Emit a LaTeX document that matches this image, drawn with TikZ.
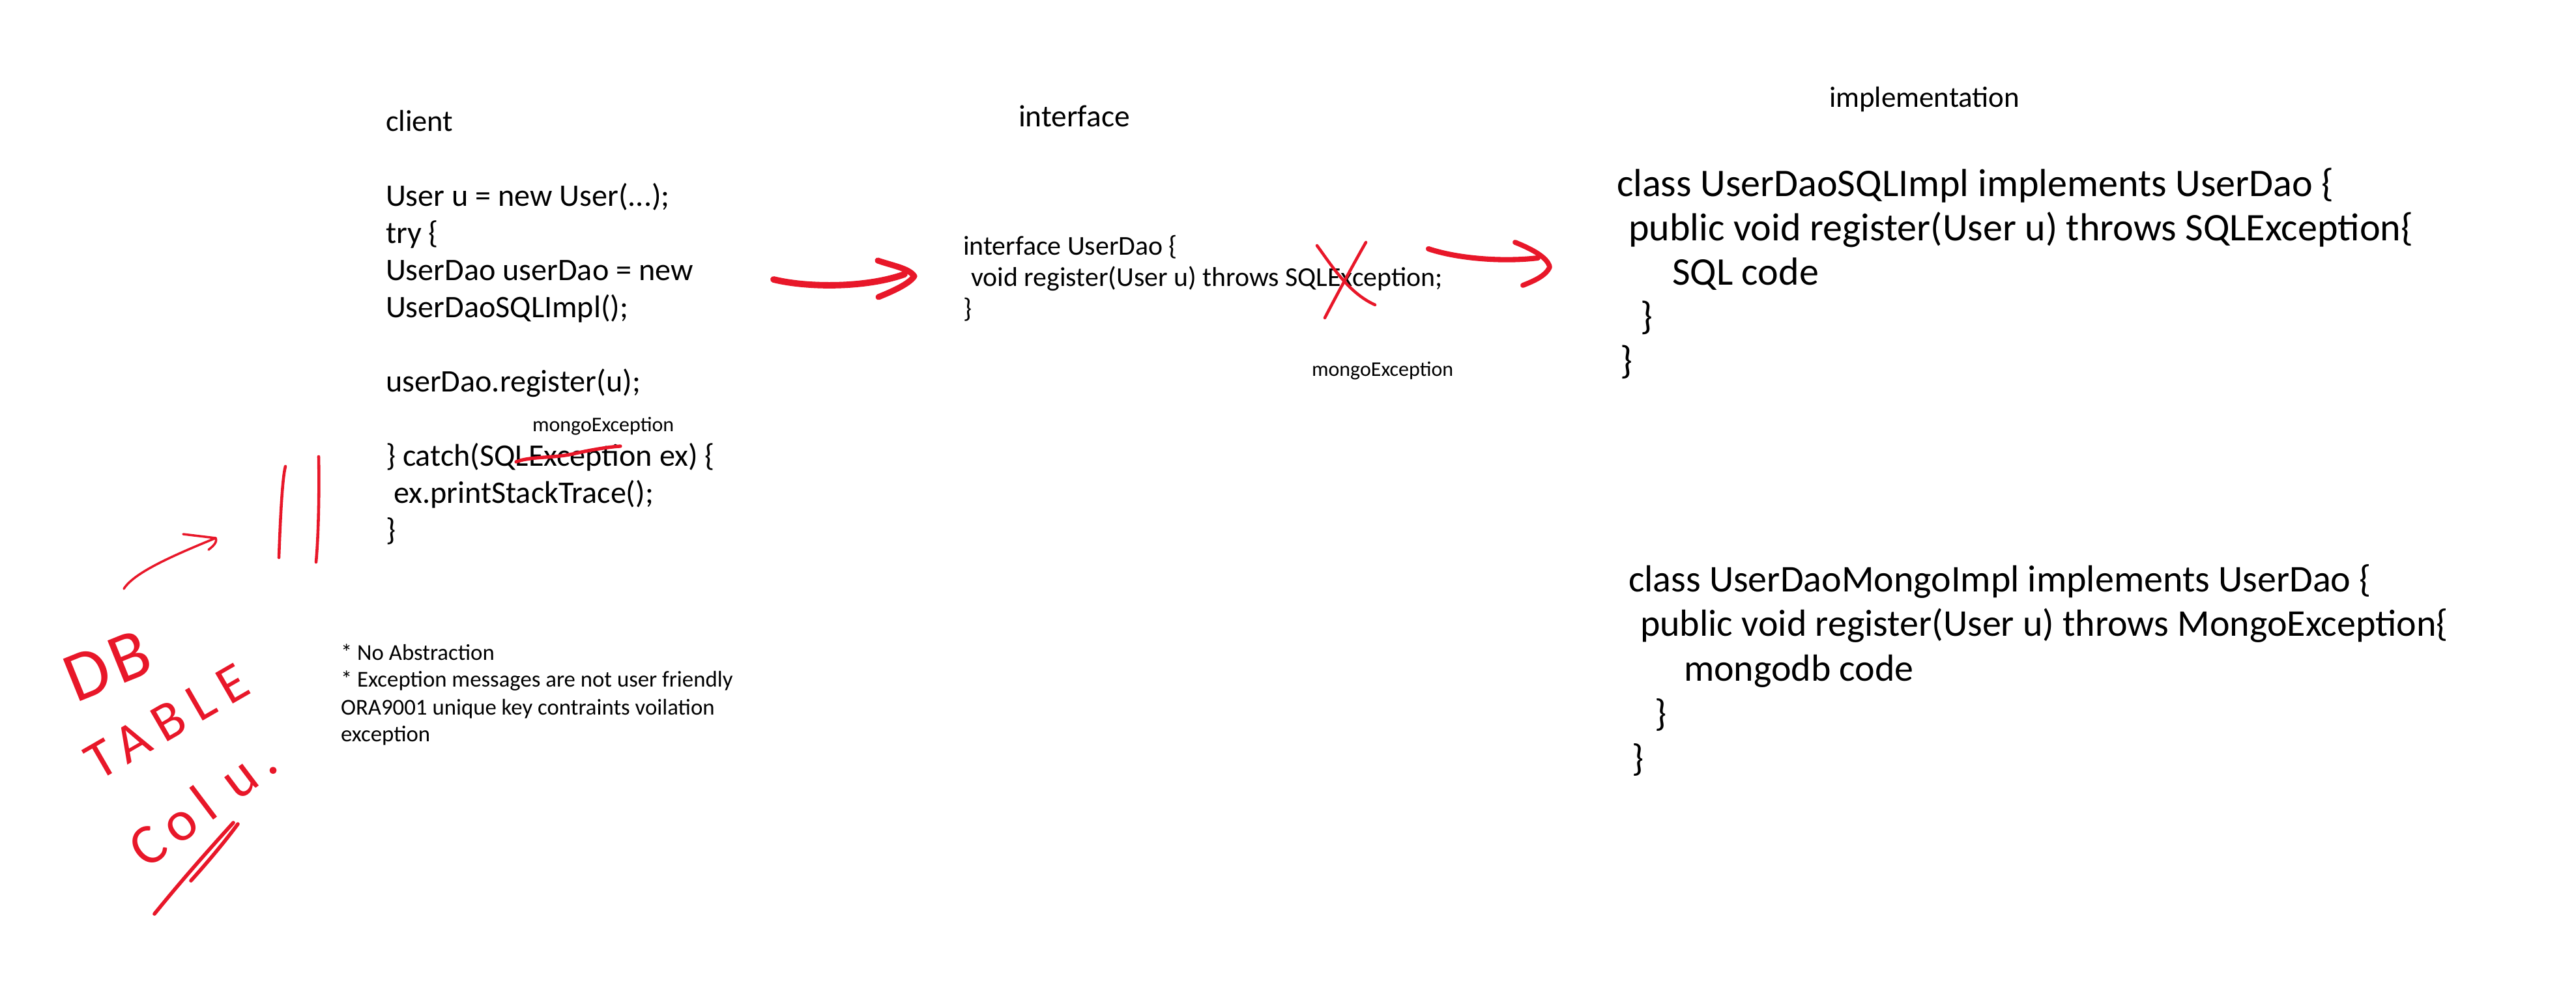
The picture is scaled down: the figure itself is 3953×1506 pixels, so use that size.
\documentclass[tikz,border=0pt]{standalone}
\usepackage{fontspec}
\setmainfont{Carlito}
\definecolor{ink}{HTML}{E81729}
\begin{document}
\begin{tikzpicture}[x=0.1mm,y=-0.1mm,
  txt/.style={anchor=base west, inner sep=0pt, outer sep=0pt},
  pen/.style={draw=ink, line cap=round, line join=round},
  scribble/.style={text=ink, inner sep=0pt, outer sep=0pt}]
\useasboundingbox[fill=white] (0,0) rectangle (3953,1506);

% ---------------- client ----------------
\node[txt, font=\fontsize{13.2}{15}\selectfont] (clientlbl) at (592,202) {client};
\node[txt, font=\fontsize{13.7}{16.2}\selectfont] (clientcode) at (592,317)
 {\begin{tabular}[t]{@{}l@{}}
 User u = new User(...);\\
 try \{\\
 UserDao userDao = new\\
 UserDaoSQLImpl();\\
 \\
 userDao.register(u);\\
 \\
 \} catch(SQLException ex) \{\\
 \hspace{1.2mm}ex.printStackTrace();\\
 \}
 \end{tabular}};
\node[txt, font=\fontsize{9.1}{11}\selectfont] (clientmongo) at (817,663) {mongoException};

% ---------------- interface ----------------
\node[txt, font=\fontsize{13.5}{15}\selectfont] (iflbl) at (1563,195) {interface};
\node[txt, font=\fontsize{11.9}{13.6}\selectfont] (ifcode) at (1478,392)
 {\begin{tabular}[t]{@{}l@{}}
 interface UserDao \{\\
 \hspace{1.2mm}void register(User u) throws SQLException;\\
 \}
 \end{tabular}};
\node[txt, font=\fontsize{9.1}{11}\selectfont] (ifmongo) at (2013,578) {mongoException};

% ---------------- implementation ----------------
\node[txt, font=\fontsize{12.8}{15}\selectfont] (impllbl) at (2807,165) {implementation};
\node[txt, font=\fontsize{17.1}{19.3}\selectfont] (sqlimpl) at (2481,302)
 {\begin{tabular}[t]{@{}l@{}}
 class UserDaoSQLImpl implements UserDao \{\\
 \hspace{1.8mm}public void register(User u) throws SQLException\{\\
 \hspace{8.5mm}SQL code\\
 \hspace{3.6mm}\}\\
 \hspace{0.5mm}\}
 \end{tabular}};
\node[txt, font=\fontsize{16.5}{19.6}\selectfont] (mongoimpl) at (2499,908)
 {\begin{tabular}[t]{@{}l@{}}
 class UserDaoMongoImpl implements UserDao \{\\
 \hspace{1.8mm}public void register(User u) throws MongoException\{\\
 \hspace{8.5mm}mongodb code\\
 \hspace{4mm}\}\\
 \hspace{0.5mm}\}
 \end{tabular}};

% ---------------- notes ----------------
\node[txt, font=\fontsize{9.9}{11.95}\selectfont] (notes) at (523,1013)
 {\begin{tabular}[t]{@{}l@{}}
 {*} No Abstraction\\
 {*} Exception messages are not user friendly\\
 ORA9001 unique key contraints voilation\\
 exception
 \end{tabular}};

% ---------------- red annotations ----------------
% strike-through in catch clause
\draw[pen, line width=1.5pt] (792,709) .. controls (815,700) and (850,704) .. (883,696)
   .. controls (910,690) and (935,686) .. (952,685);
% X over SQL in interface
\draw[pen, line width=1.3pt] (2021,377) .. controls (2045,410) and (2070,450) .. (2110,468);
\draw[pen, line width=1.3pt] (2096,372) .. controls (2080,400) and (2050,455) .. (2033,488);

% arrow client -> interface
\coordinate (a1s) at (1187,429);
\coordinate (a1e) at (1388,421);
\coordinate (a1tip) at (1403,424);
\draw[pen, line width=2.8pt] (a1s) .. controls (1240,442) and (1330,442) .. (a1e);
\draw[pen, line width=2.6pt] (1347,400) .. controls (1370,408) and (1395,412) .. (a1tip)
   .. controls (1395,436) and (1370,447) .. (1348,456);

% arrow interface -> implementation
\coordinate (a2s) at (2192,382);
\coordinate (a2e) at (2360,396);
\coordinate (a2tip) at (2378,410);
\draw[pen, line width=2.3pt] (a2s) .. controls (2240,398) and (2310,402) .. (a2e);
\draw[pen, line width=2.2pt] (2325,372) .. controls (2350,382) and (2375,395) .. (a2tip)
   .. controls (2372,424) and (2352,432) .. (2337,438);

% small arrow and double bar
\coordinate (a3s) at (190,904);
\coordinate (a3tip) at (331,826);
\draw[pen, line width=1pt] (a3s) .. controls (205,880) and (260,855) .. (a3tip);
\draw[pen, line width=1pt] (281,820) -- (a3tip) .. controls (334,833) and (326,839) .. (320,844);
\draw[pen, line width=1.3pt] (438,716) .. controls (433,735) and (430,800) .. (428,856);
\draw[pen, line width=1.3pt] (489,701) .. controls (490,750) and (489,820) .. (485,863);

% scribbled words
\node[scribble, font=\fontsize{31}{31}\selectfont\addfontfeature{LetterSpace=6}, rotate=22] (db) at (165,1022) {DB};
\node[scribble, font=\fontsize{24}{24}\selectfont\addfontfeature{LetterSpace=20}, rotate=30] (table) at (256,1108) {TABLE};
\node[scribble, font=\fontsize{25}{25}\selectfont\addfontfeature{LetterSpace=16}, rotate=37] (colu) at (310,1234) {Col u.};
\draw[pen, line width=1.6pt] (237,1403) .. controls (280,1350) and (320,1305) .. (358,1263);
\draw[pen, line width=1.6pt] (293,1352) .. controls (320,1322) and (345,1292) .. (365,1265);
\end{tikzpicture}
\end{document}
